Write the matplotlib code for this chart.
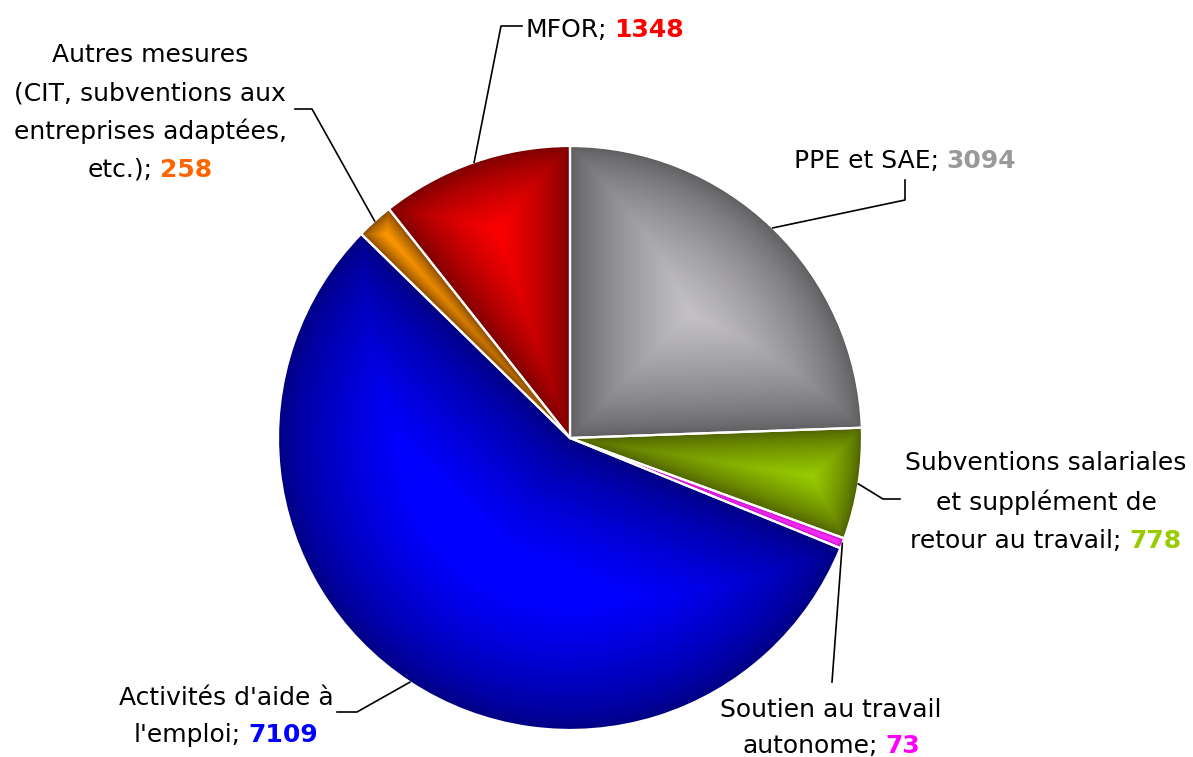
import numpy as np
import matplotlib
matplotlib.use("Agg")
import matplotlib.pyplot as plt
from matplotlib.patches import Circle

# Données
categories = ["PPE et SAE", "Subventions salariales", "Soutien au travail autonome",
              "Activités d'aide à l'emploi", "Autres mesures", "MFOR"]
valeurs = [3094, 778, 73, 7109, 258, 1348]
# couleurs : bord sombre, centre clair, couleur du chiffre
sombres = ["#5c5b5e", "#4a5c00", "#b000b0", "#00007e", "#7a4000", "#760000"]
claires = ["#c4c2c5", "#99cc00", "#ff33ff", "#0000ff", "#ff9900", "#ff0000"]
couleurs_valeur = ["#999999", "#99cc00", "#ff00ff", "#0000ff", "#ff6600", "#ff0000"]

W, H = 1193, 757
def Y(py):
    return H - py

fig = plt.figure(figsize=(W / 100, H / 100), dpi=100)
ax = fig.add_axes([0, 0, 1, 1])

cx, cy, R = 570, Y(438), 292

wedges, _ = ax.pie(valeurs, startangle=90, counterclock=False, colors=claires,
                   center=(cx, cy), radius=R, frame=True)

# ombrage "pyramide" de chaque part
n = 700
xs = np.linspace(cx - R, cx + R, n)
ys = np.linspace(cy - R, cy + R, n)
XX, YY = np.meshgrid(xs, ys)
dx, dy = XX - cx, YY - cy
rr = np.hypot(dx, dy)
ang = np.degrees(np.arctan2(dy, dx)) % 360
img = np.zeros((n, n, 4))
for w, c0, c1 in zip(wedges, sombres, claires):
    t1, t2 = w.theta1, w.theta2
    span = t2 - t1
    d = (ang - t1) % 360
    inside = (d <= span) & (rr <= R)
    def dist(a):
        a = np.radians(a)
        return np.where(a < np.pi / 2, rr * np.sin(a), rr)
    dmin = np.minimum(np.minimum(dist(d), dist(span - d)), R - rr)
    half = np.radians(min(span / 2, 90))
    rho = min(R * np.sin(half) / (1 + np.sin(half)), 0.42 * R)
    t = np.clip(dmin / rho, 0, 1) ** 0.7
    a0 = np.array(matplotlib.colors.to_rgb(c0))
    a1 = np.array(matplotlib.colors.to_rgb(c1))
    col = a0 + (a1 - a0) * t[..., None]
    img[inside, :3] = col[inside]
    img[inside, 3] = 1
im = ax.imshow(img, extent=(cx - R, cx + R, cy - R, cy + R), origin="lower",
               zorder=2, interpolation="bilinear")
im.set_clip_path(Circle((cx, cy), R, transform=ax.transData))

ax.pie(valeurs, startangle=90, counterclock=False, center=(cx, cy), radius=R,
       frame=True, wedgeprops=dict(facecolor="none", edgecolor="white",
                                   linewidth=1.6, zorder=3))
ax.set_xlim(0, W)
ax.set_ylim(0, H)
ax.axis("off")

# étiquettes
fs = 18
renderer = fig.canvas.get_renderer()

def largeur(s, **kw):
    t = ax.text(0, 0, s, fontsize=fs, **kw)
    w = t.get_window_extent(renderer).width
    t.remove()
    return w

def etiquette(lignes, fin, valeur, couleur, x, bases, ha="center"):
    for s, b in zip(lignes, bases[:-1]):
        ax.text(x, Y(b), s, fontsize=fs, ha=ha, va="baseline", color="black")
    w1 = largeur(fin)
    w2 = largeur(str(valeur), fontweight="bold")
    gap = 0.3 * fs * 100 / 72
    x0 = x - (w1 + gap + w2) / 2 if ha == "center" else x
    ax.text(x0, Y(bases[-1]), fin, fontsize=fs, ha="left", va="baseline", color="black")
    ax.text(x0 + w1 + gap, Y(bases[-1]), str(valeur), fontsize=fs, ha="left",
            va="baseline", color=couleur, fontweight="bold")

def point_bord(i):
    w = wedges[i]
    a = np.radians((w.theta1 + w.theta2) / 2)
    return cx + R * np.cos(a), cy + R * np.sin(a)

def ligne(i, pts):
    x0, y0 = point_bord(i)
    px = [x0] + [p[0] for p in pts]
    py = [y0] + [Y(p[1]) for p in pts]
    ax.plot(px, py, color="black", lw=1.2, zorder=4)

# PPE et SAE
ligne(0, [(905, 200), (905, 180)])
etiquette([], "PPE et SAE;", valeurs[0], couleurs_valeur[0], 794, [168], ha="left")
# Subventions salariales
ligne(1, [(883, 499), (900, 499)])
etiquette(["Subventions salariales", "et supplément de"], "retour au travail;",
          valeurs[1], couleurs_valeur[1], 1046, [470, 510, 548])
# Soutien au travail autonome
ligne(2, [(832, 682)])
etiquette(["Soutien au travail"], "autonome;", valeurs[2], couleurs_valeur[2],
          831, [717, 753])
# Activités d'aide à l'emploi
ligne(3, [(357, 712), (337, 712)])
etiquette(["Activités d'aide à"], "l'emploi;", valeurs[3], couleurs_valeur[3],
          226, [705, 742])
# Autres mesures
ligne(4, [(312, 109), (295, 109)])
etiquette(["Autres mesures", "(CIT, subventions aux", "entreprises adaptées,"],
          "etc.);", valeurs[4], couleurs_valeur[4], 150, [62, 101, 139, 177])
# MFOR
ligne(5, [(501, 26), (522, 26)])
etiquette([], "MFOR;", valeurs[5], couleurs_valeur[5], 525, [37], ha="left")

fig.savefig("out.png", dpi=100, facecolor="white")
